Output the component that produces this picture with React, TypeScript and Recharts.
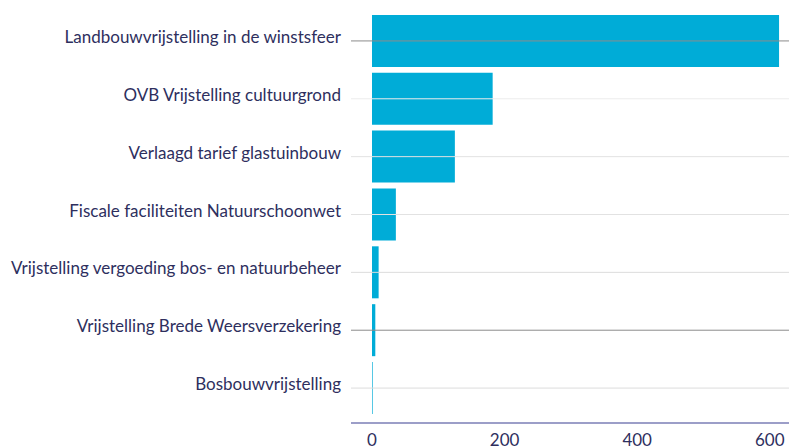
import React from 'react';
import { BarChart, Bar, XAxis, YAxis, ReferenceLine } from 'recharts';

const categories = [
  'Landbouwvrijstelling in de winstsfeer',
  'OVB Vrijstelling cultuurgrond',
  'Verlaagd tarief glastuinbouw',
  'Fiscale faciliteiten Natuurschoonwet',
  'Vrijstelling vergoeding bos- en natuurbeheer',
  'Vrijstelling Brede Weersverzekering',
  'Bosbouwvrijstelling',
];
const values = [614, 182, 125, 36, 10, 5, 1];
const xTicks = [0, 200, 400, 600];
const lineColors = ['#8c8c8c', '#ececec', '#e2e2e2', '#e2e2e2', '#dcdcdc', '#8c8c8c', '#dcdcdc'];

const data = categories.map((name, i) => ({ name, value: values[i] }));

export default function App() {
  return (
    <div style={{ position: 'absolute', left: 0, top: 0 }}>
      <BarChart
        width={789}
        height={446}
        data={data}
        layout="vertical"
        margin={{ top: 12, right: 0, left: 0, bottom: 0 }}
        barCategoryGap="5%"
      >
        {categories.map((c, i) => (
          <ReferenceLine key={c} y={c} stroke={lineColors[i]} strokeWidth={1} />
        ))}
        <XAxis
          type="number"
          domain={[0, 629]}
          ticks={xTicks}
          allowDataOverflow
          padding={{ left: 21, right: 0 }}
          height={23}
          tickLine={false}
          tickMargin={5}
          axisLine={{ stroke: '#7b7eb6', strokeWidth: 1.5 }}
          tick={{ fill: '#2e2f5e', fontSize: 17, fontFamily: 'Lato' }}
        />
        <YAxis
          type="category"
          dataKey="name"
          width={351}
          padding={{ top: 0, bottom: 6 }}
          tickLine={false}
          axisLine={false}
          tickMargin={4}
          interval={0}
          tick={{ fill: '#2e2f5e', fontSize: 17, fontFamily: 'Lato', dy: -4 }}
        />
        <Bar dataKey="value" fill="#00acd7" isAnimationActive={false} />
      </BarChart>
    </div>
  );
}
